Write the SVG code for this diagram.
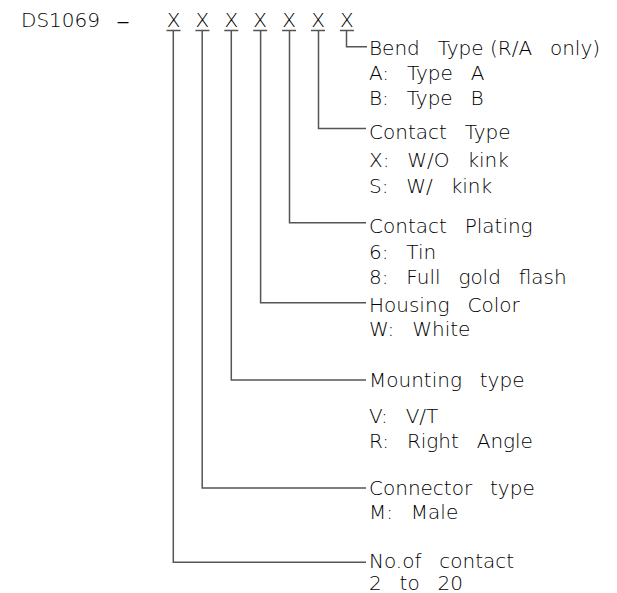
<svg xmlns="http://www.w3.org/2000/svg" width="617" height="593" viewBox="0 0 617 593">
<style>
text{font-family:"DejaVu Sans","Liberation Sans",sans-serif;font-size:20px;font-weight:200;fill:#000;word-spacing:11.5px}
.x{text-anchor:middle}
.ln{fill:none;stroke:#555;stroke-width:1.5}
</style>
<rect width="617" height="593" fill="#fff"/>
<g id="title">
<text x="21" y="26.7">DS1069</text>
<text x="123" y="30" style="font-size:27px" class="x">–</text>
</g>
<g id="code">
<text class="x" x="173.5" y="26.7">X</text>
<text class="x" x="202.4" y="26.7">X</text>
<text class="x" x="231.3" y="26.7">X</text>
<text class="x" x="260.2" y="26.7">X</text>
<text class="x" x="289.1" y="26.7">X</text>
<text class="x" x="318" y="26.7">X</text>
<text class="x" x="346.9" y="26.7">X</text>
<path class="ln" d="M166.5,30.5h14M195.4,30.5h14M224.3,30.5h14M253.2,30.5h14M282.1,30.5h14M311,30.5h14M339.9,30.5h14"/>
</g>
<g id="connectors">
<path class="ln" d="M346.5,30.5V46.7H367"/>
<path class="ln" d="M318.5,30.5V128.5H366"/>
<path class="ln" d="M289.5,30.5V222.7H366"/>
<path class="ln" d="M260.6,30.5V302.7H366"/>
<path class="ln" d="M231.3,30.5V380H366"/>
<path class="ln" d="M202.2,30.5V488H366"/>
<path class="ln" d="M173.3,30.5V562.3H366"/>
</g>
<g id="bend-type">
<text x="369" y="54.5">Bend Type<tspan style="word-spacing:0"> (</tspan>R/A only)</text>
<text x="369" y="80">A: Type A</text>
<text x="369" y="105">B: Type B</text>
</g>
<g id="contact-type">
<text x="369" y="138.5">Contact Type</text>
<text x="369" y="167">X: W/O kink</text>
<text x="369" y="193">S: W/ kink</text>
</g>
<g id="contact-plating">
<text x="369" y="233">Contact Plating</text>
<text x="369" y="259">6: Tin</text>
<text x="369" y="284">8: Full gold flash</text>
</g>
<g id="housing-color">
<text x="369" y="311.5">Housing Color</text>
<text x="369" y="336">W: White</text>
</g>
<g id="mounting-type">
<text x="369" y="387.3">Mounting type</text>
<text x="369" y="423">V: V/T</text>
<text x="369" y="448">R: Right Angle</text>
</g>
<g id="connector-type">
<text x="369" y="495">Connector type</text>
<text x="369" y="519">M: Male</text>
</g>
<g id="no-of-contact">
<text x="369" y="568">No.of contact</text>
<text x="369" y="589.5">2 to 20</text>
</g>
</svg>
